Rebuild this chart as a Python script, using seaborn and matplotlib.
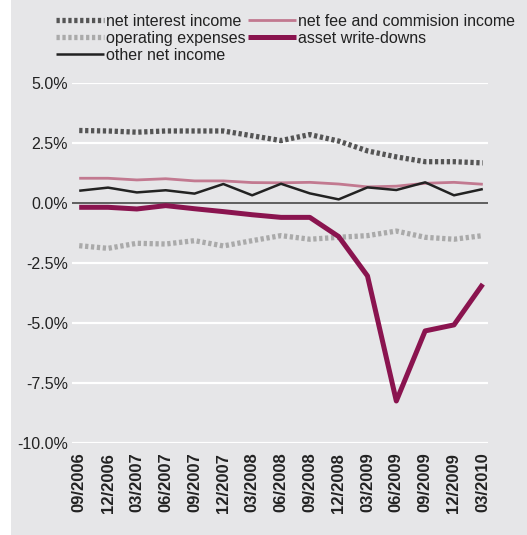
import numpy as np
import pandas as pd
import matplotlib
matplotlib.use("Agg")
import matplotlib.pyplot as plt
from matplotlib.patches import Rectangle
import seaborn as sns

quarters = ["09/2006", "12/2006", "03/2007", "06/2007", "09/2007", "12/2007", "03/2008",
            "06/2008", "09/2008", "12/2008", "03/2009", "06/2009", "09/2009", "12/2009", "03/2010"]

net_interest = [3.02, 3.0, 2.95, 3.0, 3.0, 3.0, 2.8, 2.6, 2.85, 2.58, 2.17, 1.92, 1.72, 1.72, 1.67]
net_fee = [1.03, 1.03, 0.96, 1.01, 0.92, 0.92, 0.85, 0.84, 0.86, 0.79, 0.67, 0.7, 0.82, 0.86, 0.78]
operating = [-1.78, -1.89, -1.68, -1.71, -1.57, -1.79, -1.57, -1.36, -1.51, -1.43, -1.36, -1.17, -1.43, -1.51, -1.36]
write_downs = [-0.18, -0.18, -0.25, -0.11, -0.24, -0.36, -0.49, -0.6, -0.6, -1.4, -3.04, -8.25, -5.33, -5.08, -3.38]
other_income = [0.51, 0.64, 0.44, 0.53, 0.39, 0.79, 0.32, 0.8, 0.4, 0.15, 0.65, 0.54, 0.86, 0.32, 0.58]

yticks = [5.0, 2.5, 0.0, -2.5, -5.0, -7.5, -10.0]

df = pd.DataFrame({
    "pos": np.arange(len(quarters)),
    "net interest income": net_interest,
    "net fee and commision income": net_fee,
    "operating expenses": operating,
    "asset write-downs": write_downs,
    "other net income": other_income,
})

bg = "#e6e6e8"
sns.set_style("white")
plt.rcParams["font.family"] = ["Liberation Sans", "DejaVu Sans"]

fig = plt.figure(figsize=(5.27, 5.35), dpi=100)
fig.patch.set_facecolor("white")
fig.patches.append(Rectangle((11 / 527, 0.0), 1, 1, transform=fig.transFigure,
                             facecolor=bg, edgecolor="none", zorder=-10))
ax = fig.add_axes([0.1366, 0.172, 0.926 - 0.1366, 0.8449 - 0.172])
ax.set_facecolor(bg)

# white grid, dark zero line
for y in yticks:
    if y != 0:
        ax.axhline(y, color="white", lw=1.6, zorder=0)
ax.axhline(0, color="#3a3a3a", lw=1.1, zorder=1)

styles = {
    "net interest income": dict(color="#555555", lw=3.8, dashes=(0.62, 0.5)),
    "operating expenses": dict(color="#aaaaaa", lw=3.8, dashes=(0.62, 0.5)),
    "other net income": dict(color="#222222", lw=1.8),
    "net fee and commision income": dict(color="#c27990", lw=2.0),
    "asset write-downs": dict(color="#8a144f", lw=3.6),
}
draw_order = ["operating expenses", "net interest income", "net fee and commision income",
              "other net income", "asset write-downs"]
handles = {}
for name in draw_order:
    st = styles[name]
    sns.lineplot(data=df, x="pos", y=name, ax=ax, color=st["color"], linewidth=st["lw"],
                 label=name, legend=False)
    line = ax.lines[-1]
    if "dashes" in st:
        line.set_dashes(st["dashes"])
    line.set_solid_capstyle("butt")
    line.set_dash_capstyle("butt")
    handles[name] = line

ax.set_xlim(-0.25, 14.18)
ax.set_ylim(-10.0, 5.0)
ax.set_yticks(yticks)
ax.set_yticklabels([f"{v:.1f}%" for v in yticks], fontsize=11.5, color="#222222")
ax.set_xticks(df["pos"])
ax.set_xticklabels(quarters, rotation=90, fontsize=12, fontweight="bold", color="#222222")
ax.tick_params(axis="y", length=0, pad=3)
ax.tick_params(axis="x", length=0, pad=7)
ax.set_xlabel("")
ax.set_ylabel("")
for s in ax.spines.values():
    s.set_visible(False)

# legend: column-wise fill, 2 columns
order = ["net interest income", "operating expenses", "other net income",
         "net fee and commision income", "asset write-downs"]
leg = fig.legend([handles[n] for n in order], order, loc="upper left", ncol=2,
                 bbox_to_anchor=(0.095, 0.986), frameon=False, fontsize=11.5,
                 handlelength=3.0, handletextpad=0.12, columnspacing=0.15,
                 labelspacing=0.12, borderaxespad=0.0)
for t in leg.get_texts():
    t.set_color("#222222")

fig.savefig("out.png", dpi=100, facecolor=fig.get_facecolor())
